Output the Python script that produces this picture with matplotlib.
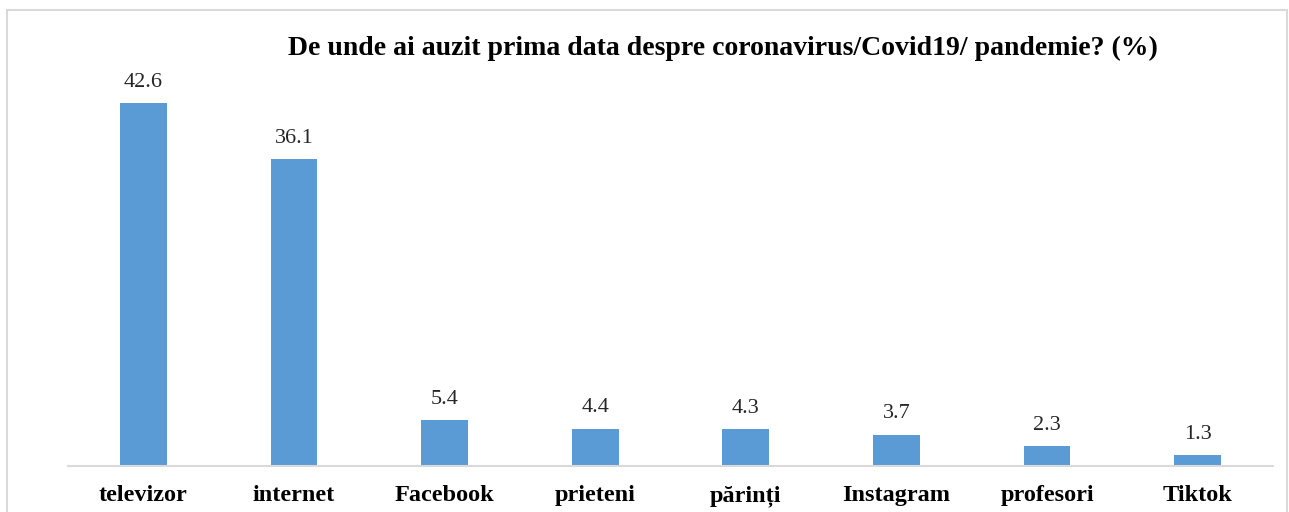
import matplotlib
matplotlib.use("Agg")
import matplotlib.pyplot as plt
from matplotlib.patches import Rectangle

categories = ["televizor", "internet", "Facebook", "prieteni", "părinți",
              "Instagram", "profesori", "Tiktok"]
values = [42.6, 36.1, 5.4, 4.4, 4.3, 3.7, 2.3, 1.3]
title = "De unde ai auzit prima data despre coronavirus/Covid19/ pandemie? (%)"

W, H = 1289, 512
fig = plt.figure(figsize=(W / 100, H / 100), dpi=100)
plt.rcParams["font.family"] = ["Liberation Serif", "DejaVu Serif"]

# outer chart frame (bottom edge is cut off in the reference)
fig.patches.append(Rectangle((7 / W, -0.1), 1280 / W, (H - 10) / H + 0.1,
                             transform=fig.transFigure, fill=False,
                             edgecolor="#D9D9D9", linewidth=1.5))

ax = fig.add_axes([68 / W, 46 / H, (1273 - 68) / W, (466 - 83) / H])
x = range(len(categories))
bars = ax.bar(x, values, width=0.31, color="#5B9BD5")
ax.set_xlim(-0.5, len(categories) - 0.5)
ax.set_ylim(0, 45)

for b, v in zip(bars, values):
    ax.annotate(f"{v}", (b.get_x() + b.get_width() / 2, v),
                xytext=(0, 8), textcoords="offset points",
                ha="center", va="bottom", fontsize=16, color="#262626")

ax.set_xticks(list(x))
ax.set_xticklabels(categories, fontsize=17.5, fontweight="bold")
ax.tick_params(axis="x", length=0, pad=14)
ax.set_yticks([])
for s in ["top", "right", "left"]:
    ax.spines[s].set_visible(False)
ax.spines["bottom"].set_color("#D9D9D9")
ax.spines["bottom"].set_linewidth(1.5)

fig.text(723 / W, 1 - 48 / H, title, ha="center", va="center",
         fontsize=20, fontweight="bold")

fig.savefig("out.png", dpi=100)
